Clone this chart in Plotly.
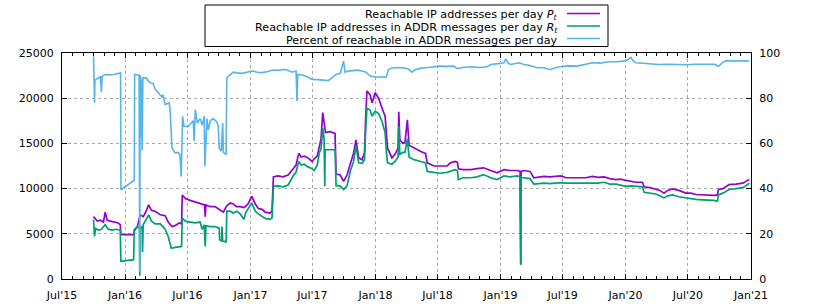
import plotly.graph_objects as go

# ---------------- data ----------------
p_dates = [
    "2015-10-01", "2015-10-06", "2015-10-12", "2015-10-21", "2015-10-30", "2015-11-04", "2015-11-10", "2015-11-19",
    "2015-11-30", "2015-12-12", "2015-12-18", "2015-12-20", "2016-01-26", "2016-01-28", "2016-02-06", "2016-02-14",
    "2016-02-23", "2016-02-29", "2016-03-10", "2016-03-18", "2016-03-29", "2016-04-13", "2016-04-27", "2016-05-06",
    "2016-05-17", "2016-05-26", "2016-06-07", "2016-06-14", "2016-06-16", "2016-06-25", "2016-07-09", "2016-07-24",
    "2016-08-07", "2016-08-20", "2016-08-22", "2016-08-24", "2016-09-06", "2016-09-20", "2016-10-05", "2016-10-14",
    "2016-10-24", "2016-11-03", "2016-11-12", "2016-11-21", "2016-12-02", "2016-12-14", "2016-12-25", "2017-01-05",
    "2017-01-15", "2017-01-24", "2017-02-04", "2017-02-13", "2017-02-27", "2017-03-05", "2017-03-09", "2017-03-22",
    "2017-04-06", "2017-04-21", "2017-05-08", "2017-05-14", "2017-05-22", "2017-05-29", "2017-06-07", "2017-06-18",
    "2017-06-30", "2017-07-06", "2017-07-15", "2017-07-21", "2017-07-26", "2017-07-31", "2017-08-04", "2017-08-08",
    "2017-08-21", "2017-09-05", "2017-09-08", "2017-09-20", "2017-09-30", "2017-10-10", "2017-10-20", "2017-10-29",
    "2017-11-05", "2017-11-13", "2017-11-23", "2017-11-30", "2017-12-03", "2017-12-07", "2017-12-16", "2017-12-22",
    "2017-12-31", "2018-01-10", "2018-01-20", "2018-01-29", "2018-02-02", "2018-02-05", "2018-02-18", "2018-02-27",
    "2018-03-08", "2018-03-10", "2018-03-13", "2018-03-22", "2018-03-28", "2018-04-04", "2018-04-09", "2018-04-23",
    "2018-05-13", "2018-05-27", "2018-06-01", "2018-06-21", "2018-07-08", "2018-07-29", "2018-08-08", "2018-08-21",
    "2018-08-28", "2018-08-31", "2018-09-13", "2018-10-06", "2018-10-24", "2018-11-13", "2018-12-03", "2018-12-22",
    "2019-01-11", "2019-01-28", "2019-02-19", "2019-02-27", "2019-03-01", "2019-03-02", "2019-03-10", "2019-03-28",
    "2019-04-08", "2019-04-26", "2019-05-08", "2019-05-25", "2019-06-15", "2019-06-26", "2019-07-11", "2019-07-25",
    "2019-08-12", "2019-09-07", "2019-09-27", "2019-10-12", "2019-10-30", "2019-11-16", "2019-12-04", "2019-12-18",
    "2020-01-02", "2020-01-17", "2020-01-31", "2020-02-19", "2020-02-24", "2020-03-12", "2020-03-29", "2020-04-10",
    "2020-04-22", "2020-05-03", "2020-05-17", "2020-06-04", "2020-06-25", "2020-07-10", "2020-07-24", "2020-08-14",
    "2020-09-01", "2020-09-15", "2020-09-25", "2020-09-28", "2020-10-11", "2020-10-29", "2020-11-18", "2020-12-08",
    "2020-12-17", "2020-12-27"]
p_values = [
    6900, 6700, 6400, 6500, 6300, 7400, 6500, 6400,
    6300, 6200, 6000, 4900, 4900, 5300, 5800, 7100,
    6900, 7300, 8200, 7600, 7500, 7100, 7000, 6300,
    5800, 5900, 6200, 6100, 9300, 8900, 8700, 8500,
    8300, 8200, 6900, 8200, 8000, 8000, 7600, 7400,
    8100, 8400, 8300, 8000, 8000, 7900, 8300, 9150,
    8300, 7800, 7700, 7400, 7300, 7500, 11300, 11400,
    11300, 11500, 12300, 12600, 13900, 13500, 13600, 13400,
    13000, 13300, 13600, 14700, 15500, 18400, 17000, 16200,
    16300, 16100, 11600, 11500, 10800, 11500, 12800, 13900,
    15400, 13400, 13200, 14000, 17500, 20800, 20400, 19500,
    20600, 20000, 18900, 18000, 16000, 14500, 13400, 13800,
    14500, 18500, 15400, 15000, 15100, 17600, 14800, 14500,
    14100, 13900, 12850, 12500, 12500, 12500, 12850, 13000,
    12900, 12200, 12100, 12100, 12200, 12300, 12000, 11740,
    12100, 12000, 12000, 11900, 1600, 11900, 12000, 11900,
    11200, 11300, 11350, 11300, 11350, 11400, 11200, 11200,
    11200, 11200, 11350, 11250, 11300, 11100, 11000, 11050,
    10900, 10800, 10700, 10700, 10200, 10100, 9970, 9800,
    9500, 9800, 9970, 9800, 9500, 9500, 9350, 9300,
    9200, 9250, 9300, 9900, 10000, 10450, 10500, 10600,
    10800, 11000]

r_dates = [
    "2015-10-01", "2015-10-04", "2015-10-07", "2015-10-15", "2015-10-24", "2015-11-04", "2015-11-13", "2015-11-24",
    "2015-12-06", "2015-12-18", "2015-12-20", "2016-01-26", "2016-01-28", "2016-02-06", "2016-02-12", "2016-02-13",
    "2016-02-14", "2016-02-20", "2016-02-21", "2016-02-23", "2016-03-03", "2016-03-10", "2016-03-18", "2016-03-29",
    "2016-04-13", "2016-04-21", "2016-04-27", "2016-05-06", "2016-05-15", "2016-05-26", "2016-06-07", "2016-06-14",
    "2016-06-16", "2016-06-25", "2016-07-09", "2016-07-24", "2016-08-07", "2016-08-13", "2016-08-19", "2016-08-22",
    "2016-08-24", "2016-09-06", "2016-09-20", "2016-10-02", "2016-10-03", "2016-10-09", "2016-10-10", "2016-10-12",
    "2016-10-22", "2016-10-24", "2016-11-03", "2016-11-12", "2016-11-22", "2016-12-02", "2016-12-13", "2016-12-19",
    "2017-01-05", "2017-01-15", "2017-01-24", "2017-02-04", "2017-02-13", "2017-02-27", "2017-03-05", "2017-03-09",
    "2017-03-22", "2017-04-06", "2017-04-21", "2017-05-08", "2017-05-14", "2017-05-22", "2017-05-29", "2017-06-07",
    "2017-06-18", "2017-06-30", "2017-07-06", "2017-07-15", "2017-07-21", "2017-07-26", "2017-07-31", "2017-08-04",
    "2017-08-06", "2017-08-07", "2017-08-21", "2017-09-05", "2017-09-08", "2017-09-20", "2017-09-30", "2017-10-10",
    "2017-10-20", "2017-10-29", "2017-11-05", "2017-11-13", "2017-11-23", "2017-11-30", "2017-12-03", "2017-12-07",
    "2017-12-16", "2017-12-22", "2017-12-31", "2018-01-10", "2018-01-20", "2018-01-29", "2018-02-02", "2018-02-05",
    "2018-02-18", "2018-02-27", "2018-03-08", "2018-03-10", "2018-03-13", "2018-03-22", "2018-03-28", "2018-04-04",
    "2018-04-09", "2018-04-23", "2018-05-13", "2018-05-27", "2018-06-01", "2018-06-21", "2018-07-08", "2018-07-29",
    "2018-08-08", "2018-08-21", "2018-08-28", "2018-08-31", "2018-09-13", "2018-10-06", "2018-10-24", "2018-11-13",
    "2018-12-03", "2018-12-22", "2019-01-11", "2019-01-28", "2019-02-19", "2019-02-27", "2019-03-01", "2019-03-02",
    "2019-03-10", "2019-03-28", "2019-04-08", "2019-04-26", "2019-05-08", "2019-05-25", "2019-06-15", "2019-06-26",
    "2019-07-11", "2019-07-25", "2019-08-12", "2019-09-07", "2019-09-27", "2019-10-12", "2019-10-30", "2019-11-16",
    "2019-12-04", "2019-12-18", "2020-01-02", "2020-01-17", "2020-01-31", "2020-02-19", "2020-02-24", "2020-03-12",
    "2020-03-29", "2020-04-10", "2020-04-22", "2020-05-03", "2020-05-17", "2020-06-04", "2020-06-25", "2020-07-10",
    "2020-07-24", "2020-08-14", "2020-09-01", "2020-09-15", "2020-09-25", "2020-09-28", "2020-10-11", "2020-10-29",
    "2020-11-18", "2020-12-08", "2020-12-17", "2020-12-27"]
r_values = [
    6570, 4720, 5600, 5400, 5500, 6000, 5500, 5400,
    5500, 5400, 1950, 2140, 5460, 5800, 5600, 370,
    5900, 5600, 3000, 6000, 6600, 7100, 6400, 6100,
    6100, 5800, 5500, 4700, 3400, 3500, 3600, 3600,
    6750, 6400, 6300, 6200, 6300, 5500, 6000, 3600,
    5900, 5800, 5800, 5600, 4350, 4200, 5800, 4200,
    4100, 7500, 7500, 7300, 7500, 7200, 6600, 7400,
    8400, 7500, 7200, 6900, 6700, 6600, 6750, 10250,
    10300, 10200, 10400, 11550, 11800, 13000, 12600, 12700,
    12400, 12200, 12000, 12600, 13950, 14400, 16700, 15500,
    10250, 14300, 14300, 14300, 10300, 10300, 9900, 10300,
    12000, 13000, 14700, 12850, 12800, 13200, 16200, 18900,
    18700, 18000, 18550, 18300, 17450, 16200, 14000, 12850,
    12700, 13000, 13500, 16900, 13800, 14000, 14000, 15500,
    13500, 13200, 13000, 12850, 11900, 11800, 11700, 11800,
    11900, 12100, 12000, 11000, 11200, 11200, 11300, 11550,
    11200, 11000, 11400, 11300, 11400, 11300, 1580, 11200,
    11200, 11100, 10500, 10550, 10600, 10550, 10600, 10650,
    10600, 10600, 10600, 10550, 10600, 10600, 10700, 10500,
    10500, 10400, 10250, 10300, 10250, 10200, 9600, 9500,
    9400, 9200, 8970, 9200, 9300, 9100, 8970, 8900,
    8800, 8750, 8750, 8700, 8600, 9300, 9500, 9900,
    10000, 10100, 10300, 10600]

pct_dates = [
    "2015-10-01", "2015-10-02", "2015-10-03", "2015-10-04", "2015-10-05", "2015-10-15", "2015-10-21", "2015-10-24",
    "2015-10-26", "2015-11-04", "2015-11-19", "2015-12-03", "2015-12-12", "2015-12-19", "2015-12-20", "2016-01-28",
    "2016-01-29", "2016-02-06", "2016-02-11", "2016-02-13", "2016-02-14", "2016-02-16", "2016-02-17", "2016-02-18",
    "2016-02-20", "2016-02-22", "2016-03-03", "2016-03-09", "2016-03-15", "2016-03-23", "2016-03-29", "2016-04-04",
    "2016-04-13", "2016-04-18", "2016-04-21", "2016-04-27", "2016-05-03", "2016-05-09", "2016-05-12", "2016-05-17",
    "2016-05-26", "2016-06-04", "2016-06-09", "2016-06-13", "2016-06-17", "2016-06-21", "2016-07-03", "2016-07-09",
    "2016-07-18", "2016-07-21", "2016-07-24", "2016-07-30", "2016-08-07", "2016-08-13", "2016-08-19", "2016-08-21",
    "2016-08-27", "2016-08-31", "2016-09-06", "2016-09-14", "2016-09-25", "2016-09-29", "2016-10-02", "2016-10-08",
    "2016-10-12", "2016-10-14", "2016-10-22", "2016-10-24", "2016-11-03", "2016-11-12", "2016-11-23", "2016-12-08",
    "2016-12-22", "2017-01-06", "2017-01-21", "2017-02-04", "2017-02-21", "2017-03-08", "2017-03-22", "2017-04-06",
    "2017-04-18", "2017-04-27", "2017-05-03", "2017-05-14", "2017-05-17", "2017-05-19", "2017-06-01", "2017-06-15",
    "2017-06-30", "2017-07-17", "2017-08-04", "2017-08-16", "2017-08-27", "2017-09-08", "2017-09-20", "2017-09-30",
    "2017-10-04", "2017-10-13", "2017-10-25", "2017-11-08", "2017-11-23", "2017-12-05", "2017-12-16", "2017-12-28",
    "2018-01-08", "2018-01-20", "2018-02-01", "2018-02-08", "2018-02-18", "2018-03-05", "2018-03-22", "2018-04-06",
    "2018-04-18", "2018-04-26", "2018-05-11", "2018-06-03", "2018-06-21", "2018-07-08", "2018-07-29", "2018-08-18",
    "2018-08-27", "2018-09-11", "2018-10-07", "2018-11-02", "2018-11-22", "2018-12-04", "2018-12-25", "2019-01-11",
    "2019-01-16", "2019-01-23", "2019-01-31", "2019-02-12", "2019-02-24", "2019-03-10", "2019-03-28", "2019-04-18",
    "2019-05-08", "2019-05-27", "2019-06-09", "2019-06-24", "2019-07-17", "2019-08-12", "2019-09-04", "2019-09-27",
    "2019-10-18", "2019-11-13", "2019-12-10", "2020-01-02", "2020-01-17", "2020-01-23", "2020-01-31", "2020-02-26",
    "2020-03-18", "2020-04-07", "2020-05-03", "2020-05-27", "2020-06-25", "2020-07-21", "2020-08-11", "2020-08-31",
    "2020-09-17", "2020-09-28", "2020-10-08", "2020-10-20", "2020-11-15", "2020-12-08", "2020-12-26"]
pct_values = [
    98.6, 87.5, 92.0, 78.0, 88.0, 89.0, 89.5, 82.6,
    89.5, 90.5, 90.3, 90.6, 91.0, 91.2, 39.5, 43.7,
    90.5, 90.5, 90.2, 3.0, 90.0, 89.0, 62.6, 88.0,
    57.0, 89.0, 89.0, 87.5, 86.8, 86.5, 84.0, 83.0,
    81.6, 80.5, 81.5, 77.2, 77.5, 78.0, 73.6, 58.0,
    55.8, 56.0, 55.0, 45.4, 72.0, 67.6, 67.5, 68.6,
    70.0, 61.0, 75.0, 69.0, 71.0, 68.0, 72.0, 49.9,
    71.0, 66.0, 70.0, 71.0, 69.5, 67.5, 58.0, 56.5,
    69.0, 56.0, 55.0, 89.0, 90.5, 91.5, 91.2, 91.0,
    91.5, 92.0, 91.5, 91.3, 91.8, 92.5, 92.3, 92.7,
    92.5, 91.7, 91.5, 92.0, 78.7, 90.5, 90.3, 89.5,
    88.3, 88.2, 88.0, 87.8, 89.0, 90.5, 91.0, 96.4,
    91.5, 92.0, 92.2, 92.4, 92.0, 91.5, 89.8, 89.5,
    89.3, 89.5, 89.2, 92.7, 93.4, 93.6, 93.5, 93.0,
    91.5, 92.5, 93.2, 93.6, 94.0, 94.2, 94.1, 94.2,
    93.1, 93.6, 93.9, 93.6, 93.9, 94.9, 95.3, 95.7,
    97.4, 95.5, 94.9, 95.3, 95.7, 94.9, 94.5, 93.5,
    93.5, 92.6, 93.5, 93.9, 94.3, 94.2, 94.8, 95.7,
    95.5, 96.1, 96.2, 96.6, 98.0, 96.5, 95.7, 95.3,
    95.0, 94.9, 95.0, 94.9, 94.8, 95.0, 94.9, 94.9,
    95.0, 94.0, 95.5, 96.6, 96.4, 96.6, 96.5]

series_names = [
    "Reachable IP addresses per day <i>P</i><sub><i>t</i></sub>",
    "Reachable IP addresses in ADDR messages per day <i>R</i><sub><i>t</i></sub>",
    "Percent of reachable in ADDR messages per day",
]
series_colors = ["#9400d3", "#009e73", "#56b4e9"]

x_range = ["2015-07-01", "2021-01-01"]
y_range = [0, 25000]
y2_range = [0, 100]

# ---------------- layout geometry ----------------
W, H = 817, 307
ML, MR, MT, MB = 62, 66, 53, 28
PW = W - ML - MR
PH = H - MT - MB
FONT = "DejaVu Sans"


def fx(px):
    return (px - ML) / PW


def fy(py):
    return (H - MB - py) / PH


fig = go.Figure()
fig.add_trace(go.Scatter(x=p_dates, y=p_values, mode="lines", name=series_names[0],
                         line=dict(color=series_colors[0], width=1.7), yaxis="y"))
fig.add_trace(go.Scatter(x=r_dates, y=r_values, mode="lines", name=series_names[1],
                         line=dict(color=series_colors[1], width=1.7), yaxis="y"))
fig.add_trace(go.Scatter(x=pct_dates, y=pct_values, mode="lines", name=series_names[2],
                         line=dict(color=series_colors[2], width=1.6), yaxis="y2"))

axis_common = dict(
    showline=True, linecolor="black", linewidth=1,
    ticks="inside", ticklen=5, tickcolor="black", tickwidth=1,
    tickfont=dict(family=FONT, size=11, color="black"),
    zeroline=False, automargin=False,
)

fig.update_layout(
    width=W, height=H,
    margin=dict(l=ML, r=MR, t=MT, b=MB, pad=0, autoexpand=False),
    paper_bgcolor="white", plot_bgcolor="white",
    showlegend=False,
    font=dict(family=FONT, size=11, color="black"),
    xaxis=dict(
        type="date", range=x_range, tick0="2015-07-01", dtick="M6",
        tickformat="%b'%y", mirror="ticks",
        showgrid=True, gridcolor="#a8a8a8", griddash="dot", gridwidth=1,
        minor=dict(dtick="M1", ticks="inside", ticklen=3, tickcolor="black", showgrid=False),
        ticklabelstandoff=6,
        **axis_common,
    ),
    yaxis=dict(
        range=y_range, dtick=5000, tickformat="d", mirror="ticks",
        showgrid=True, gridcolor="#a8a8a8", griddash="dot", gridwidth=1,
        ticklabelstandoff=5,
        **axis_common,
    ),
    yaxis2=dict(
        range=y2_range, dtick=20, tickformat="d", overlaying="y", side="right",
        showgrid=False, ticklabelstandoff=5,
        **axis_common,
    ),
)

# ---------------- legend (text right-aligned, sample line on the right) ----------------
legend_rows_py = [15, 27.5, 40]
fig.add_shape(type="rect", xref="paper", yref="paper",
              x0=fx(205), x1=fx(608), y0=fy(46.5), y1=fy(5),
              line=dict(color="black", width=1), fillcolor="white", layer="above")
for name, color, py in zip(series_names, series_colors, legend_rows_py):
    fig.add_annotation(xref="paper", yref="paper", x=fx(560), y=fy(py),
                       xanchor="right", yanchor="middle", showarrow=False,
                       text=name, font=dict(family=FONT, size=11.2, color="black"))
    fig.add_shape(type="line", xref="paper", yref="paper",
                  x0=fx(567), x1=fx(600), y0=fy(py - 1.5), y1=fy(py - 1.5),
                  line=dict(color=color, width=1.7))

fig.write_html(
    "out.html",
    config={"displayModeBar": False},
    post_script="document.body.style.margin='0';document.body.style.overflow='hidden';",
)
